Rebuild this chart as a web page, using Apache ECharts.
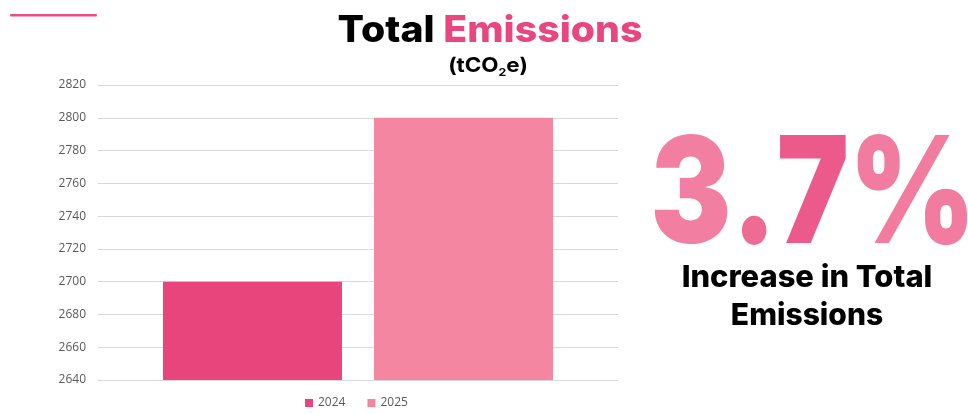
<!DOCTYPE html>
<html><head><meta charset="utf-8">
<script src="https://cdn.jsdelivr.net/npm/echarts@6/dist/echarts.min.js"></script>
<style>html,body{margin:0;padding:0;background:#fff}#c{width:968px;height:414px}</style>
</head><body><div id="c"></div>
<script>
const categories = [''];
const seriesNames = ['2024', '2025'];
const values2024 = [2700];
const values2025 = [2800];
const yMin = 2640, yMax = 2820, yStep = 20;
const headline = '3.7%';
const chart = echarts.init(document.getElementById('c'));
const F = 'Inter, "Noto Sans", sans-serif';
const headColors = ['#F27EA2', '#EE6B94', '#EC5A8B', '#F17CA0'];
const headRich = {};
headColors.forEach((c, i) => {
  headRich['h' + i] = { fontFamily: F, fontWeight: 900, fontSize: 148, fill: c };
});
const headText = headline.split('').map((ch, i) => '{h' + i + '|' + ch + '}').join('');
chart.setOption({
  animation: false,
  backgroundColor: '#fff',
  legend: {
    bottom: 0, left: 300, itemWidth: 8, itemHeight: 8, itemGap: 22,
    icon: 'rect',
    textStyle: { color: '#595959', fontSize: 12, fontFamily: 'Open Sans, sans-serif' },
    data: seriesNames
  },
  grid: { left: 98, right: 350, top: 85, bottom: 34 },
  xAxis: {
    type: 'category', data: categories,
    axisLine: { show: true, lineStyle: { color: '#d9d9d9' } },
    axisTick: { show: false }, axisLabel: { show: false }
  },
  yAxis: {
    type: 'value', min: yMin, max: yMax, interval: yStep,
    axisLine: { show: false }, axisTick: { show: false },
    axisLabel: { color: '#595959', fontSize: 12, margin: 12, fontFamily: 'Open Sans, sans-serif', formatter: v => String(v) },
    splitLine: { lineStyle: { color: '#d9d9d9', width: 1 } }
  },
  series: [
    { name: seriesNames[0], type: 'bar', data: values2024, barWidth: 179, barGap: '17.9%', itemStyle: { color: '#E9457D' } },
    { name: seriesNames[1], type: 'bar', data: values2025, barWidth: 179, itemStyle: { color: '#F586A2' } }
  ],
  graphic: [
    { type: 'rect', shape: { x: 10, y: 14, width: 87, height: 2.5, r: 1 }, style: { fill: '#EE4A83' } },
    { type: 'text', x: 490, y: 12, scaleX: 1.06, style: {
      text: '{a|Total }{b|Emissions}', align: 'center', verticalAlign: 'top',
      rich: {
        a: { fontFamily: F, fontWeight: 800, fontSize: 37, fill: '#000' },
        b: { fontFamily: F, fontWeight: 800, fontSize: 37, fill: '#E9467F' }
      }
    }},
    { type: 'text', x: 488, y: 56, scaleX: 1.12, style: {
      text: '{a|(tCO}{s|2}{a|e)}', align: 'center', verticalAlign: 'top',
      rich: {
        a: { fontFamily: F, fontWeight: 700, fontSize: 20, fill: '#000', verticalAlign: 'bottom' },
        s: { fontFamily: F, fontWeight: 700, fontSize: 11, fill: '#000', verticalAlign: 'bottom', padding: [0, 0, -2, 0] }
      }
    }},
    { type: 'text', x: 813, y: 124, scaleX: 0.82, style: {
      text: headText, align: 'center', verticalAlign: 'top', rich: headRich
    }},
    { type: 'text', x: 807, y: 263, scaleX: 1.03, style: {
      text: 'Increase in Total', align: 'center', verticalAlign: 'top', fontFamily: F, fontWeight: 800,
      fontSize: 30, fill: '#000'
    }},
    { type: 'text', x: 807, y: 301, style: {
      text: 'Emissions', align: 'center', verticalAlign: 'top', fontFamily: F, fontWeight: 800,
      fontSize: 30, fill: '#000'
    }}
  ]
});
</script></body></html>
